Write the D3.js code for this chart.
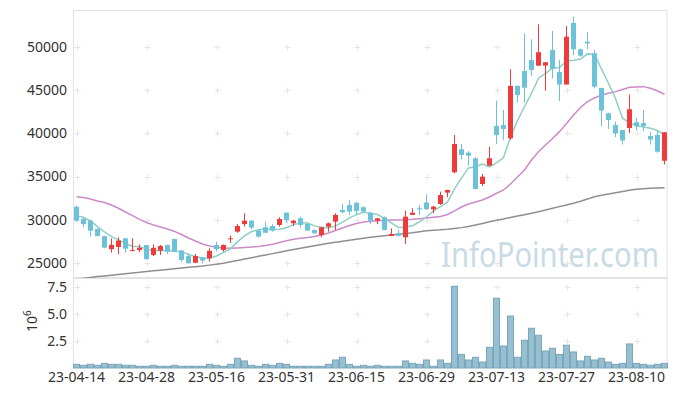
<!DOCTYPE html>
<html>
<head>
<meta charset="utf-8">
<script src="https://cdn.jsdelivr.net/npm/d3@7"></script>
<style>
  body { margin: 0; background: #fff; }
  text { font-family: "Noto Sans", sans-serif; }
</style>
</head>
<body>
<script>
const dates = [
  "23-04-14","23-04-17","23-04-18","23-04-19","23-04-20","23-04-21","23-04-24","23-04-25","23-04-26","23-04-27",
  "23-04-28","23-05-02","23-05-03","23-05-04","23-05-08","23-05-09","23-05-10","23-05-11","23-05-12","23-05-15",
  "23-05-16","23-05-17","23-05-18","23-05-19","23-05-22","23-05-23","23-05-24","23-05-25","23-05-26","23-05-30",
  "23-05-31","23-06-01","23-06-02","23-06-05","23-06-07","23-06-08","23-06-09","23-06-12","23-06-13","23-06-14",
  "23-06-15","23-06-16","23-06-19","23-06-20","23-06-21","23-06-22","23-06-23","23-06-26","23-06-27","23-06-28",
  "23-06-29","23-06-30","23-07-03","23-07-04","23-07-05","23-07-06","23-07-07","23-07-10","23-07-11","23-07-12",
  "23-07-13","23-07-14","23-07-17","23-07-18","23-07-19","23-07-20","23-07-21","23-07-24","23-07-25","23-07-26",
  "23-07-27","23-07-28","23-07-31","23-08-01","23-08-02","23-08-03","23-08-04","23-08-07","23-08-08","23-08-09",
  "23-08-10","23-08-11","23-08-14","23-08-16","23-08-17"
];

const opens = [
  31500,30100,29900,28950,28100,26600,26850,27850,26400,26500,
  27080,25930,26420,27080,27780,26450,25800,25030,25650,25550,
  27080,26500,27750,28620,29500,29900,28750,29130,29280,29400,
  30820,29600,30170,29510,28820,28240,29200,29780,31130,31700,
  31940,31450,30820,29900,30290,28130,28440,27970,30560,31330,
  32000,31210,31830,33140,35500,38160,37770,37120,34140,36260,
  40860,40970,39430,45490,47220,48500,47840,47840,49650,47110,
  45660,52780,49730,50610,49270,45250,42330,40970,40390,40620,
  41290,41200,39700,39820,36830
];
const highs = [
  31650,30200,29950,29000,28150,27850,27950,27900,27850,27150,
  27100,27150,27080,27120,27800,26450,26100,26050,25700,26700,
  27450,27150,28150,29500,30750,29950,28900,29780,29480,30290,
  30850,29980,30360,29550,28900,29200,29680,30750,31830,32290,
  32100,31540,30900,30200,30380,29000,28820,31050,31330,31700,
  32950,31600,33250,33480,39820,38770,37960,37230,35300,38460,
  43780,42710,47420,45550,51580,50890,52630,48260,51850,48500,
  52430,53510,49800,51700,49650,45300,42400,41350,40400,44500,
  41750,42710,40200,40280,40150
];
const lows = [
  29780,29150,28050,28050,26700,26200,26000,26200,26350,26250,
  25400,25800,25930,26050,26250,25150,24950,24980,24960,25150,
  26300,26300,27320,28500,29200,28900,27930,28480,28620,29200,
  29660,29280,29090,28700,28360,27970,28620,28820,30750,30560,
  30560,30820,29510,29510,28780,28100,28090,27200,30550,30560,
  31130,30750,31710,32600,35380,37000,36260,33530,33910,36250,
  38780,39240,39240,43580,43580,46640,47820,44940,46380,43750,
  45640,49070,48880,49730,45220,40860,40510,39580,38720,40050,
  40340,40280,38720,37760,36400
];
const closes = [
  29900,29500,28750,28130,26770,27100,27600,26650,26500,26770,
  25430,26750,26970,26300,26300,25350,24960,25800,25280,26400,
  26600,27080,27850,29280,29900,29100,28050,28500,28740,30090,
  29980,29900,29400,28740,28440,29130,29590,30560,30870,30950,
  31020,30950,29900,30170,28820,28360,28130,30360,30820,31200,
  31220,31520,32870,33450,38770,37500,37420,33560,34990,37120,
  39820,40510,45490,44450,45290,47340,49390,48230,47490,45660,
  51190,49730,48990,50410,45410,42630,41550,39990,39180,42790,
  40820,40860,39290,37880,40130
];
// volume, millions of shares
const volumes = [
  0.34,0.25,0.34,0.25,0.43,0.34,0.34,0.25,0.25,0.16,
  0.16,0.25,0.16,0.16,0.25,0.16,0.16,0.16,0.16,0.34,
  0.25,0.16,0.34,0.90,0.65,0.25,0.16,0.34,0.25,0.43,
  0.34,0.16,0.16,0.16,0.16,0.16,0.34,0.74,0.99,0.34,
  0.16,0.25,0.16,0.25,0.16,0.16,0.16,0.65,0.43,0.34,
  0.74,0.16,0.74,0.43,7.55,1.26,0.74,0.99,0.55,1.91,
  6.44,2.03,4.80,0.99,2.56,3.67,3.02,1.57,1.82,1.26,
  2.10,1.48,0.65,1.08,0.74,0.90,0.55,0.34,0.43,2.22,
  0.43,0.34,0.25,0.34,0.43
];
const ma5 = [
  30470,30290,29860,29200,28610,28050,27670,27250,26920,26920,
  26590,26420,26480,26440,26350,26330,25980,25740,25540,25560,
  25810,26230,26640,27440,28140,28640,28840,28970,28860,28900,
  29070,29440,29620,29620,29290,29120,29060,29290,29720,30220,
  30600,30870,30740,30600,30170,29640,29080,29170,29300,29770,
  30350,31020,31530,32050,33570,34820,36000,36140,36450,36120,
  36580,37200,39590,41480,43110,44620,46390,46940,47550,47620,
  48390,48460,48610,49200,49150,47430,45800,44000,41750,41230,
  40870,40730,40590,40330,39800
];
const ma20 = [
  32670,32580,32410,32180,32000,31710,31330,30900,30480,30040,
  29690,29400,29170,28940,28650,28300,27890,27550,27200,26970,
  26820,26740,26700,26740,26790,26850,26910,27030,27170,27370,
  27580,27740,27860,27950,28070,28240,28470,28760,29050,29340,
  29570,29750,29830,29900,29940,29980,29980,30010,30060,30130,
  30210,30290,30380,30610,31020,31480,31830,32060,32290,32640,
  33070,33450,34140,34950,35760,36920,37880,38660,39410,40200,
  41150,42130,43000,43670,44100,44450,44640,44830,45080,45340,
  45370,45410,45220,44910,44530
];
const ma60 = [
  23090,23230,23320,23420,23500,23580,23670,23760,23840,23920,
  24020,24100,24170,24250,24330,24420,24500,24570,24650,24750,
  24850,24980,25140,25290,25460,25610,25780,25930,26080,26240,
  26410,26560,26700,26850,26990,27140,27280,27400,27510,27630,
  27740,27860,27980,28070,28160,28240,28320,28420,28510,28620,
  28740,28800,28840,28900,28990,29090,29230,29400,29570,29780,
  29940,30090,30270,30440,30590,30750,30940,31140,31330,31520,
  31710,31910,32140,32410,32670,32840,32990,33140,33280,33420,
  33530,33590,33650,33680,33720
];
const priceTicks = [25000, 30000, 35000, 40000, 45000, 50000];
const volTicks = [2.5, 5.0, 7.5];
const dateTicks = ["23-04-14","23-04-28","23-05-16","23-05-31","23-06-15","23-06-29","23-07-13","23-07-27","23-08-10"];

const W = 677, H = 396;
const left = 73, right = 668;
const pTop = 10, pBot = 278, vTop = 277, vBot = 368;
const upColor = "#ee3b3b", downColor = "#6cc2d8";

const svg = d3.select("body").append("svg").attr("width", W).attr("height", H);

const x = d3.scaleBand().domain(dates).range([left, right]).padding(0);
const y = d3.scaleLinear().domain([23260, 54280]).range([pBot, pTop]);
const yv = d3.scaleLinear().domain([0, 8.4]).range([vBot, vTop]);
const cx = d => x(d) + x.bandwidth() / 2;

svg.append("defs").append("clipPath").attr("id", "clipP")
  .append("rect").attr("x", left).attr("y", pTop).attr("width", right - left).attr("height", pBot - pTop);

// frames
svg.append("rect").attr("x", left + 0.5).attr("y", pTop + 0.5)
  .attr("width", right - left - 1.5).attr("height", pBot - pTop)
  .attr("fill", "none").attr("stroke", "#e3e3e3");
svg.append("rect").attr("x", left + 0.5).attr("y", vTop + 0.5)
  .attr("width", right - left - 1.5).attr("height", vBot - vTop - 1)
  .attr("fill", "none").attr("stroke", "#e3e3e3");

// small cross markers instead of grid lines
const crosses = svg.append("g").attr("stroke", "#e6e6e6").attr("stroke-width", 1);
function cross(px, py) {
  px = Math.round(px) + 0.5; py = Math.round(py) + 0.5;
  crosses.append("line").attr("x1", px - 3).attr("x2", px + 3).attr("y1", py).attr("y2", py);
  crosses.append("line").attr("x1", px).attr("x2", px).attr("y1", py - 3).attr("y2", py + 3);
}
dateTicks.forEach(d => {
  priceTicks.forEach(t => cross(cx(d), y(t)));
  volTicks.forEach(t => cross(cx(d), yv(t)));
});

// watermark
svg.append("text").attr("x", 441).attr("y", 267)
  .attr("font-size", 34).attr("fill", "#c9dbe5")
  .attr("textLength", 218).attr("lengthAdjust", "spacingAndGlyphs")
  .text("InfoPointer.com");

// moving averages
const plot = svg.append("g").attr("clip-path", "url(#clipP)");
const line = arr => d3.line().x((d, i) => cx(dates[i])).y(d => y(d))(arr);
plot.append("path").attr("d", line(ma60)).attr("fill", "none").attr("stroke", "#8f8f8f").attr("stroke-width", 1.5);
plot.append("path").attr("d", line(ma20)).attr("fill", "none").attr("stroke", "#cc8bc8").attr("stroke-width", 1.5);
plot.append("path").attr("d", line(ma5)).attr("fill", "none").attr("stroke", "#8ecfc6").attr("stroke-width", 1.5);

// candles
const candles = plot.selectAll("g.c").data(dates).enter().append("g").attr("class", "c");
const col = (d, i) => closes[i] >= opens[i] ? upColor : downColor;
candles.append("line")
  .attr("x1", d => Math.floor(cx(d)) + 0.5).attr("x2", d => Math.floor(cx(d)) + 0.5)
  .attr("y1", (d, i) => y(highs[i])).attr("y2", (d, i) => y(lows[i]))
  .attr("stroke", col);
candles.append("rect")
  .attr("x", d => Math.floor(cx(d)) - 2)
  .attr("width", 5)
  .attr("y", (d, i) => y(Math.max(opens[i], closes[i])))
  .attr("height", (d, i) => Math.max(1, y(Math.min(opens[i], closes[i])) - y(Math.max(opens[i], closes[i]))))
  .attr("fill", col);

// volume
svg.append("g").selectAll("rect").data(dates).enter().append("rect")
  .attr("x", d => x(d) + 0.5)
  .attr("width", x.bandwidth() - 1)
  .attr("y", (d, i) => yv(volumes[i]))
  .attr("height", (d, i) => vBot - yv(volumes[i]))
  .attr("fill", "#98bfd0").attr("stroke", "#7aa7bb").attr("stroke-width", 1);

// axis labels
const lab = svg.append("g").attr("fill", "#333").attr("font-size", 14);
priceTicks.forEach(t => lab.append("text").attr("x", 67).attr("y", y(t)).attr("dy", "0.35em")
  .attr("text-anchor", "end").text(t));
volTicks.forEach(t => lab.append("text").attr("x", 67).attr("y", yv(t)).attr("dy", "0.35em")
  .attr("text-anchor", "end").text(t.toFixed(1)));
dateTicks.forEach(d => lab.append("text").attr("x", cx(d)).attr("y", 382)
  .attr("text-anchor", "middle").text(d));

const unit = lab.append("text").attr("transform", "translate(37,332) rotate(-90)");
unit.append("tspan").text("10");
unit.append("tspan").attr("dy", -6).attr("font-size", 10).text("6");
</script>
</body>
</html>
